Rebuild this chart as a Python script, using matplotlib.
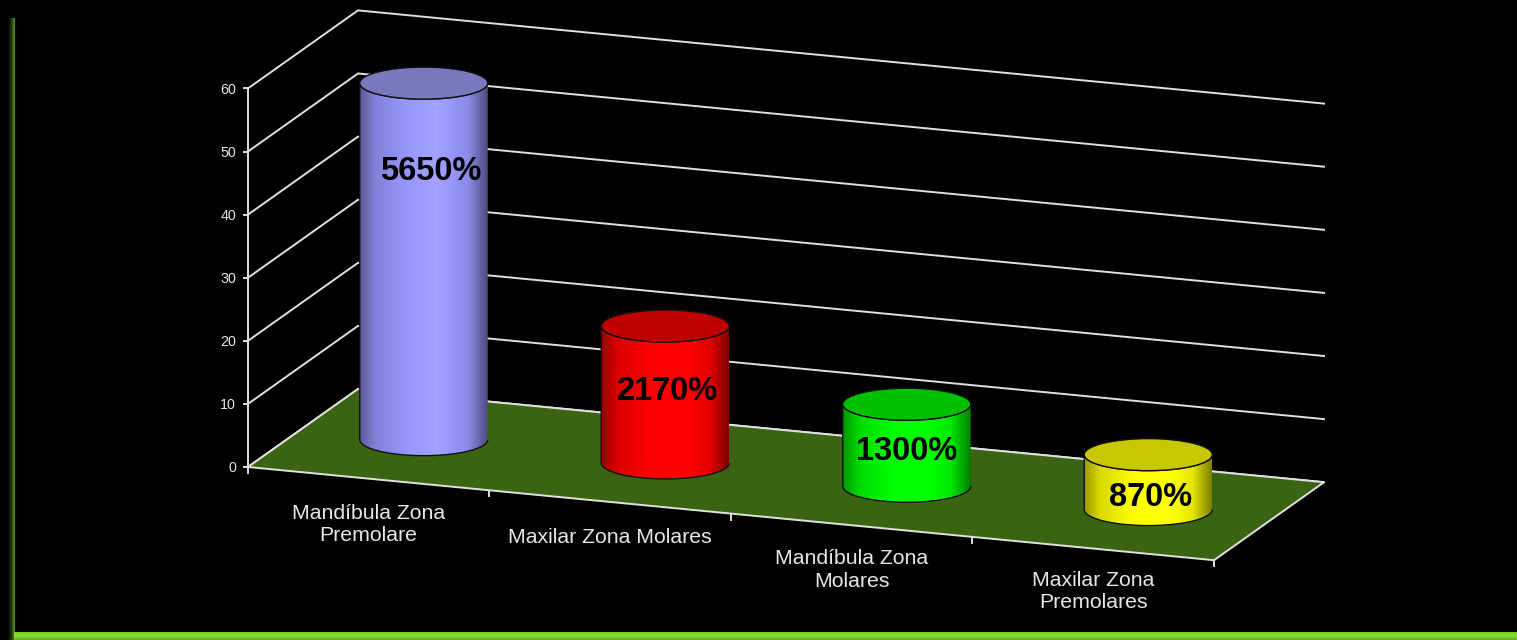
import numpy as np
import matplotlib.pyplot as plt
from matplotlib.colors import to_rgb
from matplotlib.patches import Polygon, Ellipse, PathPatch
from matplotlib.path import Path

plt.rcParams['font.family'] = ['Liberation Sans', 'DejaVu Sans']

## Data
categories = ['Mandíbula Zona\nPremolare', 'Maxilar Zona Molares',
              'Mandíbula Zona\nMolares', 'Maxilar Zona\nPremolares']
values = [56.5, 21.7, 13.0, 8.7]
value_labels = ['5650%', '2170%', '1300%', '870%']
y_ticks = [0, 10, 20, 30, 40, 50, 60]

body_colors = ['#9999ff', '#ff0000', '#00ff00', '#ffff00']
top_colors = ['#7878bd', '#c00000', '#00c000', '#c8c800']

# label placement, pixels relative to the front floor edge / the cylinder axis
label_dy = [46, 36, 45, 43]
value_label_dx = [7, 2, 0, 2]
value_label_y = [171, 391, 452, 497]

## Chart box in pixels
X0, Y0 = 248, 467      # front left corner of the floor
DX_CAT, DY_CAT = 241.5, 23.3
DX_DEPTH, DY_DEPTH = 110, -78
PX_PER_UNIT = 6.31
R_X, R_Y = 64, 16

def proj(cat, val, depth=0):
    x = X0 + DX_CAT * cat + DX_DEPTH * depth
    y = Y0 + DY_CAT * cat + DY_DEPTH * depth - PX_PER_UNIT * val
    return x, y

fig = plt.figure(figsize=(15.17, 6.4), dpi=100, facecolor='black')
ax = fig.add_axes([0, 0, 1, 1])
ax.set_xlim(0, 1517)
ax.set_ylim(640, 0)
ax.axis('off')

n = len(categories)
line_col = '#e0e0e0'
lw = 1.4

## Grid lines on the walls
for t in y_ticks:
    pts = [proj(0, t, 0), proj(0, t, 1), proj(n, t, 1)]
    ax.plot(*zip(*pts), color=line_col, lw=lw, zorder=1, solid_joinstyle='miter')
    x, y = proj(0, t, 0)
    ax.plot([x - 4, x], [y, y], color=line_col, lw=lw, zorder=1)
    ax.text(x - 12, y + 1.5, str(t), color='#e6e6e6', fontsize=10.3, ha='right', va='center')

ax.plot(*zip(proj(0, 0), proj(0, 60)), color=line_col, lw=lw, zorder=1)

## Floor
floor = [proj(0, 0, 0), proj(0, 0, 1), proj(n, 0, 1), proj(n, 0, 0)]
ax.add_patch(Polygon(floor, closed=True, facecolor='#3a6312', edgecolor=line_col,
                     lw=lw, zorder=2))

for i in range(n + 1):
    x, y = proj(i, 0)
    ax.plot([x, x], [y, y + 6], color=line_col, lw=lw, zorder=1)

## Cylinders
# brightness across the cylinder, left to right
shade = np.interp(np.linspace(0, 1, 128), [0, 0.12, 0.35, 0.6, 0.85, 1],
                  [0.6, 0.85, 0.98, 1.06, 0.9, 0.5])

for i in range(n):
    cx, yb = proj(i + 0.5, 0, 0.5)
    cx, yt = proj(i + 0.5, values[i], 0.5)

    t = np.linspace(0, np.pi, 60)
    xs = np.concatenate([cx + R_X * np.cos(t), cx + R_X * np.cos(t[::-1])])
    ys = np.concatenate([yb + R_Y * np.sin(t), yt + R_Y * np.sin(t[::-1])])
    outline = Path(np.column_stack([xs, ys]))

    grad = np.clip(shade[:, None] * np.array(to_rgb(body_colors[i])), 0, 1)[None, :, :]
    im = ax.imshow(grad, extent=[cx - R_X, cx + R_X, yb + R_Y, yt], aspect='auto',
                   zorder=3, interpolation='bilinear')
    patch = PathPatch(outline, facecolor='none', edgecolor='#111111', lw=1.0, zorder=4)
    ax.add_patch(patch)
    im.set_clip_path(patch)

    ax.add_patch(Ellipse((cx, yt), 2 * R_X, 2 * R_Y, facecolor=top_colors[i],
                         edgecolor='#111111', lw=1.0, zorder=5))

    ax.text(cx + value_label_dx[i], value_label_y[i], value_labels[i], color='black',
            fontsize=23.5, fontweight='bold', ha='center', va='center', zorder=6)

    x, y = proj(i + 0.5, 0)
    ax.text(x, y + label_dy[i], categories[i], color='#e6e6e6', fontsize=15.3,
            ha='center', va='center', linespacing=1.24)

## Green border of the slide
left = np.zeros((1, 8, 4))
left[0, :, :3] = to_rgb('#4f8a1c')
left[0, :, 3] = np.linspace(0, 1, 8) ** 1.5
ax.imshow(left, extent=[7, 15, 640, 18], aspect='auto', zorder=7)

bottom = np.array([[to_rgb('#76d126')], [to_rgb('#86e62e')], [to_rgb('#7fd62c')], [to_rgb('#68b428')]])
ax.imshow(bottom, extent=[14, 1517, 640, 632], aspect='auto', zorder=8, interpolation='bilinear')

ax.set_xlim(0, 1517)
ax.set_ylim(640, 0)

fig.savefig('out.png', dpi=100, facecolor='black')
